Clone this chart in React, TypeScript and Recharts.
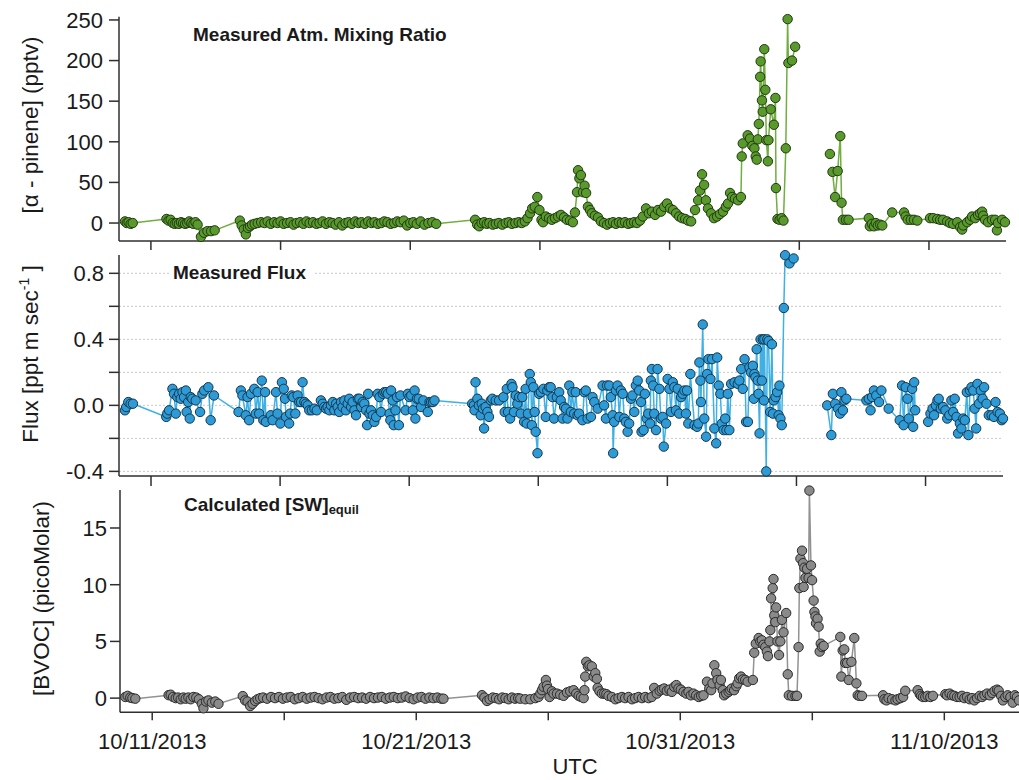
import { LineChart, Line, XAxis, YAxis, CartesianGrid } from 'recharts'

// time axis: days since 10/11/2013 00:00 UTC
const dateTicks = [0, 5, 10, 15, 20, 25, 30]
const dateLabels: Record<number, string> = { 0: '10/11/2013', 10: '10/21/2013', 20: '10/31/2013', 30: '11/10/2013' }

const mixTicks = [0, 50, 100, 150, 200, 250]
const fluxTicks = [-0.4, -0.2, 0, 0.2, 0.4, 0.6, 0.8]
const fluxLabelled = [-0.4, 0, 0.4, 0.8]
const equilTicks = [0, 5, 10, 15]

// alpha-pinene mixing ratio (pptv); null breaks the trace
const mixingRatio: [number, number | null][] = [
  [-1.0, 2], [-0.93, 0], [-0.86, 1], [-0.78, -1], [-0.7, 0],
  [0.6, 5], [0.68, 3], [0.76, 4], [0.84, 0], [0.92, -1], [1.0, 0], [1.08, -1], [1.16, 1], [1.24, 0], [1.32, -1],
  [1.4, 0], [1.48, 2], [1.56, 0], [1.64, -1], [1.72, 1], [1.8, -2], [1.93, -17], [2.05, -12], [2.18, -10], [2.32, -10], [2.46, -9],
  [3.43, 3], [3.5, -3], [3.58, -8], [3.66, -14], [3.74, -6], [3.82, -4], [3.9, -2], [4.0, -1], [4.12, 0], [4.25, 1],
  [4.38, 0], [4.5, 2], [4.62, -1], [4.75, 1], [4.88, 0], [5.0, 2], [5.12, -1], [5.25, 0], [5.38, 1], [5.5, -2],
  [5.62, 0], [5.75, 1], [5.88, -1], [6.0, 2], [6.12, 0], [6.25, 1], [6.38, -1], [6.5, 0], [6.62, 2], [6.75, -1],
  [6.88, 1], [7.0, 0], [7.12, -2], [7.25, 1], [7.38, -3], [7.5, 0], [7.62, 1], [7.75, -1], [7.88, 2], [8.0, 0],
  [8.12, 1], [8.25, -1], [8.38, 2], [8.5, 0], [8.62, 1], [8.75, -1], [8.88, 0], [9.0, 2], [9.12, 1], [9.25, -1],
  [9.38, 0], [9.5, 2], [9.62, 1], [9.75, 3], [9.88, -3], [10.0, 0], [10.12, 1], [10.25, -1], [10.4, 2], [10.55, -2],
  [10.7, 0], [10.85, 1], [11.0, -1],
  [12.5, 4], [12.58, -2], [12.66, -4], [12.75, 0], [12.85, 1], [12.95, -1], [13.05, 0], [13.18, -2], [13.3, -1],
  [13.42, 0], [13.55, -2], [13.68, 0], [13.8, 1], [13.92, -1], [14.05, 0], [14.18, 1], [14.3, 0], [14.42, 2],
  [14.52, 6], [14.62, 12], [14.7, 18], [14.8, 20], [14.9, 32], [14.98, 16], [15.06, 4], [15.12, 1], [15.23, 8],
  [15.35, 6], [15.46, 4], [15.58, 6], [15.7, 8], [15.81, 10], [15.93, 7], [16.04, 4], [16.16, 3], [16.27, 1],
  [16.35, 13], [16.43, 38], [16.47, 65], [16.52, 55], [16.58, 59], [16.66, 38], [16.72, 46], [16.78, 37], [16.85, 20],
  [16.93, 16], [17.0, 12], [17.12, 9], [17.24, 7], [17.35, 2], [17.47, 0], [17.59, -2], [17.7, 0], [17.82, 1],
  [17.93, -1], [18.05, 1], [18.16, 0], [18.28, 1], [18.4, -1], [18.51, 0], [18.63, 1], [18.74, 0], [18.86, 3],
  [18.97, 8], [19.09, 18], [19.2, 12], [19.32, 14], [19.44, 10], [19.55, 16], [19.67, 14], [19.79, 20], [19.9, 24],
  [20.02, 18], [20.13, 16], [20.25, 12], [20.37, 8], [20.48, 6], [20.6, 5], [20.71, 3], [20.83, 2], [20.98, 16],
  [21.1, 28], [21.17, 40], [21.25, 60], [21.33, 47], [21.4, 28], [21.48, 18], [21.6, 12], [21.71, 6], [21.83, 8],
  [21.94, 11], [22.06, 14], [22.17, 20], [22.25, 24], [22.33, 37], [22.41, 32], [22.52, 30], [22.64, 28], [22.75, 32],
  [22.78, 82], [22.82, 98], [23.01, 108], [23.1, 104], [23.19, 95], [23.27, 92], [23.32, 82], [23.36, 78], [23.4, 103],
  [23.44, 122], [23.49, 180], [23.51, 199], [23.56, 151], [23.59, 137], [23.65, 214], [23.69, 164], [23.73, 102],
  [23.79, 76], [23.81, 102], [23.9, 140], [24.02, 121], [24.08, 154], [24.1, 43], [24.16, 5], [24.24, 4], [24.32, 6],
  [24.39, 3], [24.48, 92], [24.55, 251], [24.58, 197], [24.72, 200], [24.84, 217],
  [25.5, null],
  [26.18, 85], [26.23, null],
  [26.28, 63], [26.38, 32], [26.48, 64], [26.58, 107], [26.63, 25], [26.68, 4], [26.8, 4], [26.9, 4],
  [27.68, 6], [27.72, -4], [27.8, -1], [27.88, -4], [27.95, 0], [28.03, -3], [28.12, -2], [28.2, -3],
  [28.58, 13], [29.04, 13], [29.1, 8], [29.18, 4], [29.3, 4], [29.42, 4], [29.55, 3],
  [30.04, 6], [30.16, 6], [30.32, 5], [30.43, 4], [30.54, 4], [30.7, 2], [30.81, 0], [30.93, -1], [31.09, 1],
  [31.2, -5], [31.28, -8], [31.32, -3], [31.47, 1], [31.58, 4], [31.66, 8], [31.78, 6], [31.89, 10], [31.97, 12],
  [32.05, 14], [32.09, 9], [32.16, 4], [32.28, 1], [32.43, 4], [32.55, 4], [32.62, -9], [32.66, 0], [32.82, 4], [32.93, 1],
]

// measured flux (ppt m s-1)
const flux: [number, number | null][] = [
  [-1.01, -0.03], [-0.96, -0.01], [-0.88, 0.02], [-0.79, 0.01], [-0.7, 0.01],
  [0.59, -0.07], [0.63, -0.05], [0.7, -0.03], [0.83, 0.1], [0.89, 0.07], [0.96, -0.05], [1.02, 0.05], [1.09, 0.07],
  [1.15, 0.04], [1.22, 0.08], [1.28, 0.05], [1.35, 0.09], [1.38, -0.04], [1.44, 0.02], [1.5, -0.08], [1.54, 0.05],
  [1.6, 0.04], [1.73, 0.03], [1.9, -0.04], [1.99, 0.07], [2.06, 0.09], [2.22, 0.11], [2.31, -0.09], [2.44, 0.06],
  [3.39, -0.04], [3.48, 0.09], [3.54, 0.06], [3.67, -0.06], [3.74, 0.05], [3.8, -0.09], [3.87, 0.07], [4.0, 0.1],
  [4.06, -0.05], [4.13, 0.08], [4.19, -0.05], [4.29, 0.15], [4.35, -0.09], [4.42, 0.08], [4.45, -0.1], [4.64, -0.06],
  [4.71, -0.09], [4.84, 0.08], [4.9, -0.05], [5.01, -0.11], [5.07, 0.14], [5.14, 0.1], [5.19, 0.04], [5.23, -0.07],
  [5.35, -0.11], [5.39, -0.05], [5.45, 0.06], [5.51, 0.05], [5.59, -0.05], [5.68, 0.06], [5.74, 0.02], [5.81, 0.02],
  [5.87, 0.14], [5.94, 0.02], [6.0, 0.01], [6.07, 0], [6.13, -0.03], [6.23, -0.03], [6.33, -0.02], [6.42, -0.03],
  [6.58, 0.03], [6.65, 0.01], [6.71, -0.01], [6.78, -0.02], [6.84, -0.01], [6.91, -0.03], [6.97, 0], [7.04, 0.02],
  [7.1, -0.03], [7.17, 0.01], [7.23, -0.01], [7.29, -0.04], [7.36, 0.02], [7.42, -0.01], [7.49, 0.03], [7.55, -0.03],
  [7.62, 0.01], [7.68, 0.04], [7.75, -0.01], [7.81, 0.02], [7.88, -0.03], [7.94, -0.06], [8.01, 0.04], [8.07, 0.04],
  [8.14, -0.01], [8.2, 0.02], [8.26, 0.01], [8.33, -0.03], [8.37, -0.12], [8.41, 0.07], [8.46, -0.05], [8.52, -0.03],
  [8.59, -0.06], [8.65, -0.1], [8.72, -0.07], [8.78, 0.07], [8.85, 0.05], [8.91, -0.04], [8.98, 0.07], [9.04, 0.08],
  [9.11, 0.08], [9.17, 0.07], [9.24, -0.05], [9.27, -0.09], [9.3, 0.09], [9.36, 0.03], [9.4, -0.12], [9.47, -0.03],
  [9.53, 0.05], [9.6, -0.12], [9.66, 0.06], [9.86, -0.03], [9.95, 0.07], [10.01, 0.05], [10.08, 0.06], [10.14, -0.03],
  [10.21, 0.09], [10.24, -0.08], [10.3, 0.04], [10.37, 0.04], [10.46, -0.01], [10.55, 0.03], [10.72, -0.04],
  [10.79, 0.02], [10.85, 0.02], [10.92, 0.02], [10.98, 0.03],
  [12.44, 0.01], [12.51, 0], [12.53, -0.03], [12.57, 0.14], [12.64, 0.04], [12.7, 0], [12.77, -0.06], [12.81, 0.01],
  [12.86, -0.02], [12.9, -0.14], [12.96, -0.01], [13.03, -0.04], [13.09, -0.07], [13.16, 0.03], [13.22, 0.04],
  [13.35, 0.03], [13.48, 0.03], [13.65, 0.05], [13.7, -0.04], [13.78, 0.1], [13.83, -0.04], [13.91, -0.08],
  [13.96, 0.13], [14.0, 0.11], [14.06, -0.04], [14.13, 0.06], [14.19, 0.01], [14.26, 0.05], [14.32, -0.05],
  [14.38, 0.05], [14.45, -0.1], [14.51, 0.1], [14.55, -0.11], [14.6, -0.05], [14.67, 0.19], [14.71, 0.14],
  [14.75, -0.12], [14.81, 0.11], [14.86, -0.04], [14.9, -0.16], [14.97, -0.29], [15.03, 0.07], [15.1, 0.08],
  [15.2, 0.1], [15.29, -0.07], [15.35, 0.09], [15.42, 0.11], [15.48, 0.11], [15.55, 0.05], [15.61, -0.08],
  [15.72, 0.05], [15.81, 0.08], [15.87, 0.03], [15.94, -0.08], [16.0, -0.01], [16.07, -0.02], [16.13, -0.08],
  [16.2, 0.12], [16.26, -0.04], [16.32, 0.08], [16.39, -0.05], [16.45, 0.08], [16.52, -0.06], [16.58, -0.05],
  [16.71, -0.09], [16.78, 0.08], [16.84, 0.09], [16.91, -0.08], [17.04, -0.07], [17.1, 0.05], [17.17, 0.02],
  [17.3, -0.02], [17.49, 0.12], [17.55, 0], [17.62, -0.08], [17.66, 0.12], [17.75, 0.12], [17.81, 0.05],
  [17.88, -0.06], [17.9, -0.29], [17.94, -0.1], [18.01, 0.09], [18.07, 0.12], [18.14, -0.07], [18.2, 0.09],
  [18.27, 0.07], [18.33, -0.08], [18.39, -0.1], [18.46, -0.16], [18.52, -0.11], [18.59, 0.04], [18.65, 0.06],
  [18.72, -0.04], [18.78, 0.12], [18.85, 0.15], [18.91, 0.09], [18.98, 0.02], [19.0, -0.16], [19.08, -0.15],
  [19.13, 0.07], [19.2, -0.08], [19.26, -0.05], [19.33, -0.11], [19.36, 0.15], [19.4, 0.22], [19.45, 0.12],
  [19.49, -0.05], [19.56, -0.15], [19.62, 0.22], [19.69, 0.1], [19.75, -0.08], [19.82, -0.07], [19.86, -0.25],
  [19.95, -0.11], [20.01, 0.16], [20.08, 0.1], [20.14, -0.04], [20.21, 0.14], [20.27, 0.11], [20.33, -0.03],
  [20.4, 0.1], [20.46, -0.05], [20.53, 0.05], [20.59, 0.07], [20.66, 0.09], [20.72, -0.05], [20.76, 0.09],
  [20.81, -0.11], [20.89, 0.19], [21.05, -0.12], [21.15, -0.13], [21.2, -0.11], [21.24, 0.26], [21.28, 0.15],
  [21.3, 0.02], [21.37, 0.49], [21.43, -0.08], [21.5, -0.19], [21.54, 0.19], [21.59, 0.28], [21.67, 0.16],
  [21.73, 0.28], [21.82, -0.14], [21.89, -0.23], [21.93, 0.29], [21.99, 0.12], [22.05, 0.07], [22.11, -0.11],
  [22.18, -0.15], [22.24, -0.08], [22.29, -0.15], [22.34, 0.07], [22.4, -0.15], [22.47, 0.13], [22.6, 0.14],
  [22.73, 0.13], [22.79, 0.15], [22.86, 0.22], [22.92, 0.1], [22.99, 0.28], [23.05, -0.1], [23.12, -0.1],
  [23.18, 0.23], [23.24, 0.2], [23.31, 0.24], [23.35, 0.04], [23.37, 0.19], [23.41, 0.17], [23.46, 0.34],
  [23.5, 0.15], [23.53, 0.07], [23.57, -0.17], [23.61, 0.4], [23.66, 0.15], [23.7, 0.4], [23.74, 0.03],
  [23.76, 0.4], [23.83, -0.4], [23.87, 0.4], [23.92, 0.39], [23.98, -0.04], [24.05, 0.37], [24.09, -0.05],
  [24.12, 0.03], [24.19, 0.05], [24.25, 0.08], [24.31, -0.06], [24.34, 0.12], [24.38, -0.08], [24.43, -0.12],
  [24.51, 0.59], [24.56, 0.91], [24.73, 0.86], [24.89, 0.89],
  [25.5, null],
  [26.19, 0], [26.35, -0.18], [26.41, 0.07], [26.5, 0.01], [26.61, -0.02], [26.69, -0.05], [26.74, 0.08],
  [26.8, -0.03], [26.86, 0.03], [26.93, 0.04], [27.71, 0.03], [27.8, 0.04], [27.87, -0.03], [27.93, 0.05],
  [28.0, 0.09], [28.09, 0.06], [28.2, 0.02], [28.29, 0.09], [28.57, -0.02], [29.0, -0.09], [29.09, 0.12],
  [29.15, -0.12], [29.23, 0.11], [29.3, 0.04], [29.35, -0.08], [29.48, 0.1], [29.52, -0.13], [29.56, 0.14],
  [29.6, -0.03],
  [29.85, null],
  [30.1, -0.1], [30.19, -0.05], [30.27, -0.02], [30.33, -0.06], [30.4, 0], [30.46, 0.03], [30.51, 0.04],
  [30.59, -0.02], [30.68, -0.01], [30.77, -0.03], [30.84, -0.08], [30.92, -0.06], [31.0, 0.03], [31.07, -0.04],
  [31.13, 0.04], [31.2, -0.07], [31.26, -0.17], [31.33, -0.11], [31.39, -0.14], [31.46, -0.08], [31.52, -0.09],
  [31.6, 0.08], [31.66, -0.18], [31.72, 0.09], [31.78, 0.11], [31.85, 0.09], [31.9, -0.02], [31.96, -0.14],
  [32.01, 0.13], [32.07, 0.01], [32.14, 0.09], [32.21, 0.04], [32.27, 0.11], [32.36, 0.01], [32.45, -0.06],
  [32.56, -0.06], [32.65, -0.07], [32.71, 0.02], [32.79, -0.04], [32.88, -0.05], [32.95, -0.09], [33.0, -0.08],
]

// calculated seawater equilibrium concentration (pM)
const equilConc: [number, number][] = [
  [-1.02, 0.1], [-0.93, 0.2], [-0.83, 0.05], [-0.75, 0], [-0.64, -0.05],
  [0.62, 0.26], [0.7, 0.3], [0.79, 0.1], [0.89, 0], [0.98, 0.05], [1.08, -0.1], [1.18, 0.05], [1.27, -0.05],
  [1.37, 0.05], [1.46, -0.1], [1.56, 0.1], [1.67, 0.05], [1.77, -0.1], [1.88, -0.5], [1.94, -0.9], [2.04, -0.3],
  [2.13, -0.2], [2.26, -0.4], [2.39, -0.3], [2.51, -0.5],
  [3.43, 0.18], [3.52, -0.2], [3.61, -0.3], [3.71, -0.7], [3.8, -0.5], [3.9, -0.25], [3.99, -0.1], [4.09, 0],
  [4.2, 0.05], [4.35, -0.05], [4.5, 0.1], [4.65, 0], [4.8, 0.1], [4.95, -0.05], [5.1, 0.05], [5.25, 0.1],
  [5.4, -0.1], [5.55, 0], [5.7, 0.1], [5.85, -0.05], [6.0, 0.05], [6.15, 0.1], [6.3, 0], [6.45, -0.1],
  [6.6, 0.05], [6.75, 0.1], [6.9, -0.05], [7.05, 0], [7.2, 0.1], [7.35, -0.15], [7.5, 0.05], [7.65, 0.1],
  [7.8, 0], [7.95, 0.05], [8.1, -0.05], [8.25, 0.1], [8.4, 0], [8.55, 0.05], [8.7, 0.1], [8.85, -0.05],
  [9.0, 0.05], [9.15, 0.1], [9.3, 0], [9.45, 0.05], [9.6, 0.15], [9.75, 0], [9.9, -0.1], [10.05, 0.05],
  [10.2, 0.1], [10.35, -0.05], [10.5, 0.05], [10.65, 0], [10.8, 0.05], [10.95, -0.05], [11.03, -0.05],
  [12.49, 0.26], [12.58, 0.05], [12.68, -0.25], [12.78, -0.1], [12.9, 0.05], [13.02, 0], [13.14, -0.1],
  [13.26, 0.05], [13.38, 0], [13.5, -0.1], [13.62, 0.05], [13.74, -0.05], [13.86, 0],
  [13.94, -0.05], [14.13, -0.1], [14.32, -0.1], [14.51, 0], [14.63, 0.1], [14.7, 0.4], [14.76, 0.7], [14.82, 1.0],
  [14.91, 1.6], [14.95, 1.1], [14.99, 0.8], [15.05, 0.1], [15.14, 0.6], [15.2, 0.4], [15.33, 0.4], [15.45, 0.3],
  [15.58, 0.2], [15.71, 0.5], [15.83, 0.6], [15.96, 0.7], [16.06, 0.4], [16.15, 0.2], [16.24, 0.1], [16.34, 0],
  [16.37, 0.7], [16.4, 1.9], [16.44, 3.2], [16.5, 2.8], [16.56, 2.9], [16.65, 2.8], [16.72, 1.9], [16.78, 2.2],
  [16.84, 1.7], [16.87, 0.9], [16.94, 0.6], [17.03, 0.4], [17.12, 0.4], [17.2, 0.35], [17.28, 0.2], [17.41, 0.1],
  [17.54, -0.1], [17.66, 0], [17.79, 0.1], [17.91, 0], [18.04, 0.1], [18.17, -0.1], [18.29, 0], [18.42, 0.1],
  [18.55, 0], [18.67, 0.1], [18.8, 0], [18.92, 0.1], [19.01, 0.9], [19.11, 0.4], [19.22, 0.65], [19.3, 0.75],
  [19.39, 0.85], [19.49, 0.65], [19.59, 0.75], [19.68, 0.55], [19.77, 1.0], [19.85, 1.15], [19.93, 0.85],
  [20.02, 0.75], [20.12, 0.55], [20.23, 0.4], [20.31, 0.55], [20.4, 0.25], [20.5, 0.4], [20.6, 0.25], [20.7, 0.1],
  [20.79, 0.2], [20.88, 0.25], [21.01, 1.45], [21.1, 0.85], [21.17, 0.7], [21.22, 1.3], [21.29, 2.9], [21.36, 2.2],
  [21.41, 1.6], [21.49, 1.15], [21.54, 1.6], [21.61, 0.7], [21.66, 0.25], [21.74, 0.4], [21.83, 0.55], [21.89, 0.7],
  [21.95, 0.85], [22.04, 0.7], [22.12, 1.05], [22.17, 1.3], [22.23, 1.75], [22.3, 1.9], [22.37, 1.65], [22.46, 1.6],
  [22.55, 1.45], [22.75, 1.6], [22.8, 4.0], [22.86, 4.8], [22.97, 5.3], [23.03, 5.0], [23.09, 5.1], [23.15, 4.7],
  [23.22, 4.5], [23.28, 4.1], [23.32, 3.7], [23.38, 5.0], [23.41, 6.0], [23.44, 8.8], [23.5, 9.7], [23.53, 10.5],
  [23.56, 7.3], [23.6, 6.7], [23.63, 8.0], [23.68, 5.0], [23.74, 3.8], [23.79, 5.0], [23.85, 6.9], [23.91, 5.8],
  [24.01, 7.5], [24.07, 2.1], [24.11, 0.25], [24.23, 0.2], [24.36, 0.2], [24.42, 0.2], [24.48, 4.5], [24.51, 9.7],
  [24.55, 12.3], [24.61, 13.0], [24.65, 11.9], [24.67, 9.8], [24.7, 11.5], [24.74, 10.6], [24.8, 11.4], [24.86, 10.6],
  [24.89, 18.3], [24.95, 11.7], [24.99, 10.4], [25.05, 8.6], [25.08, 7.6], [25.12, 7.2], [25.14, 6.6], [25.2, 7.0],
  [25.24, 6.3], [25.28, 4.1], [25.32, 4.8], [25.37, 4.5], [25.43, 4.6], [26.06, 5.4], [26.1, 1.9], [26.15, 4.2],
  [26.21, 4.3], [26.25, 3.1], [26.32, 3.1], [26.38, 1.6], [26.48, 3.2], [26.59, 5.3], [26.67, 1.3], [26.72, 0.25],
  [26.79, 0.2], [26.88, 0.2], [27.68, 0.25], [27.73, -0.1], [27.81, -0.2], [27.89, 0], [28.02, -0.1], [28.15, -0.2],
  [28.23, -0.1], [28.34, 0], [28.44, 0.1], [28.52, 0.65], [28.99, 0.7], [29.07, 0.35], [29.12, 0.2], [29.19, 0.1],
  [29.28, 0.1], [29.37, 0.2], [29.47, 0.1], [29.57, 0.2], [30.04, 0.35], [30.1, 0.25], [30.2, 0.4], [30.29, 0.25],
  [30.38, 0.2], [30.48, 0.1], [30.58, 0.1], [30.67, 0.2], [30.76, 0], [30.86, 0.1], [30.96, -0.1], [31.05, 0],
  [31.14, -0.2], [31.24, 0], [31.34, 0.2], [31.43, 0.1], [31.52, 0.25], [31.62, 0.4], [31.72, 0.25], [31.81, 0.45],
  [31.9, 0.65], [32.0, 0.75], [32.06, 0.65], [32.15, 0.2], [32.22, -0.2], [32.31, 0.1], [32.4, 0.25], [32.5, 0.1],
  [32.59, -0.4], [32.67, 0.25], [32.75, 0.1], [32.83, -0.2],
]

const toRows = (pairs: [number, number | null][]) => pairs.map(([t, v]) => ({ t, v }))

const AXIS = '#2f2f2f'
const TEXT = '#1a1a1a'
const tickStyle = { fill: TEXT, fontSize: 22 }
const lineStyle = { stroke: AXIS, strokeWidth: 1.5 }

const blank = () => ''
const dateText = (v: number) => dateLabels[v] ?? ''
const fluxText = (v: number) => (fluxLabelled.includes(v) ? v.toFixed(1) : '')

function TimeAxis({ height, tickSize, formatter, domain, tickMargin = 2 }: any) {
  return (
    <XAxis
      dataKey="t"
      type="number"
      domain={domain}
      ticks={dateTicks}
      interval={0}
      height={height}
      tickSize={tickSize}
      tickMargin={tickMargin}
      tickFormatter={formatter}
      tick={tickStyle}
      axisLine={lineStyle}
      tickLine={lineStyle}
      stroke={AXIS}
    />
  )
}

export default function App() {
  return (
    <div
      style={{
        position: 'absolute',
        left: 0,
        top: 0,
        width: 1019,
        height: 780,
        overflow: 'hidden',
        background: '#fff',
        fontFamily: '"Liberation Sans", Arial, sans-serif',
      }}
    >
      <div style={{ position: 'absolute', left: 0, top: 0 }}>
        <LineChart width={1019} height={262} data={toRows(mixingRatio)} margin={{ top: 16.7, right: 13, bottom: 0, left: 0 }}>
          {TimeAxis({ height: 21.1, tickSize: 9, formatter: blank, domain: [-1.23, 32.97] })}
          <YAxis
            type="number"
            domain={[-22, 254]}
            ticks={mixTicks}
            interval={0}
            width={119}
            tickSize={10}
            tickMargin={6}
            tick={tickStyle}
            axisLine={lineStyle}
            tickLine={lineStyle}
            stroke={AXIS}
          />
          <Line
            type="linear"
            dataKey="v"
            stroke="#6fae3f"
            strokeWidth={1.5}
            dot={{ r: 4.7, fill: '#5a9a2c', stroke: '#1f3a12', strokeWidth: 1 }}
            activeDot={false}
            connectNulls={false}
            isAnimationActive={false}
          />
        </LineChart>
      </div>

      <div style={{ position: 'absolute', left: 0, top: 245 }}>
        <LineChart width={1019} height={245} data={toRows(flux)} margin={{ top: 10, right: 16, bottom: 0, left: 0 }}>
          <CartesianGrid vertical={false} horizontalValues={fluxTicks} stroke="#c9c9c9" strokeDasharray="2 2" />
          {TimeAxis({ height: 14, tickSize: 10, formatter: blank, domain: [-1.24, 33.0] })}
          <YAxis
            type="number"
            domain={[-0.428, 0.911]}
            ticks={fluxTicks}
            interval={0}
            width={119}
            tickSize={10}
            tickMargin={5}
            tickFormatter={fluxText}
            tick={tickStyle}
            axisLine={lineStyle}
            tickLine={lineStyle}
            stroke={AXIS}
          />
          <Line
            type="linear"
            dataKey="v"
            stroke="#3fb0e3"
            strokeWidth={1.5}
            dot={{ r: 4.7, fill: '#2e9bd6', stroke: '#133850', strokeWidth: 1 }}
            activeDot={false}
            connectNulls={false}
            isAnimationActive={false}
          />
        </LineChart>
      </div>

      <div style={{ position: 'absolute', left: 0, top: 480 }}>
        <LineChart width={1040} height={300} data={toRows(equilConc)} margin={{ top: 10, right: 17, bottom: 0, left: 0 }}>
          {TimeAxis({ height: 67.7, tickSize: 8, formatter: dateText, domain: [-1.22, 32.98], tickMargin: 13 })}
          <YAxis
            type="number"
            domain={[-1.25, 18.35]}
            ticks={equilTicks}
            interval={0}
            width={120}
            tickSize={10}
            tickMargin={3}
            tick={tickStyle}
            axisLine={lineStyle}
            tickLine={lineStyle}
            stroke={AXIS}
          />
          <Line
            type="linear"
            dataKey="v"
            stroke="#929292"
            strokeWidth={1.5}
            dot={{ r: 4.7, fill: '#8a8a8a', stroke: '#2b2b2b', strokeWidth: 1 }}
            activeDot={false}
            isAnimationActive={false}
          />
        </LineChart>
      </div>

      {/* panel titles and axis titles */}
      <svg width={1019} height={780} style={{ position: 'absolute', left: 0, top: 0, pointerEvents: 'none' }}>
        <g fill={TEXT} fontWeight="bold" fontSize={19}>
          <text x={193} y={40.5}>Measured Atm. Mixing Ratio</text>
          <rect x={169} y={266} width={145} height={13} fill="#fff" />
          <text x={173} y={278.5}>Measured Flux</text>
          <text x={184} y={510.7}>
            Calculated [SW]
            <tspan fontSize={13} dy={3.5}>equil</tspan>
          </text>
        </g>
        <g fill={TEXT} fontSize={22.5} textAnchor="middle">
          <text x={37.5} y={125} transform="rotate(-90, 37.5, 125)">[α - pinene] (pptv)</text>
          <text x={38} y={354} transform="rotate(-90, 38, 354)">
            Flux [ppt m sec
            <tspan fontSize={14} dy={-9}>-1</tspan>
            <tspan dy={9}> ]</tspan>
          </text>
          <text x={48.5} y={598.5} transform="rotate(-90, 48.5, 598.5)">[BVOC] (picoMolar)</text>
          <text x={575} y={774} fontSize={22}>UTC</text>
        </g>
      </svg>
    </div>
  )
}
